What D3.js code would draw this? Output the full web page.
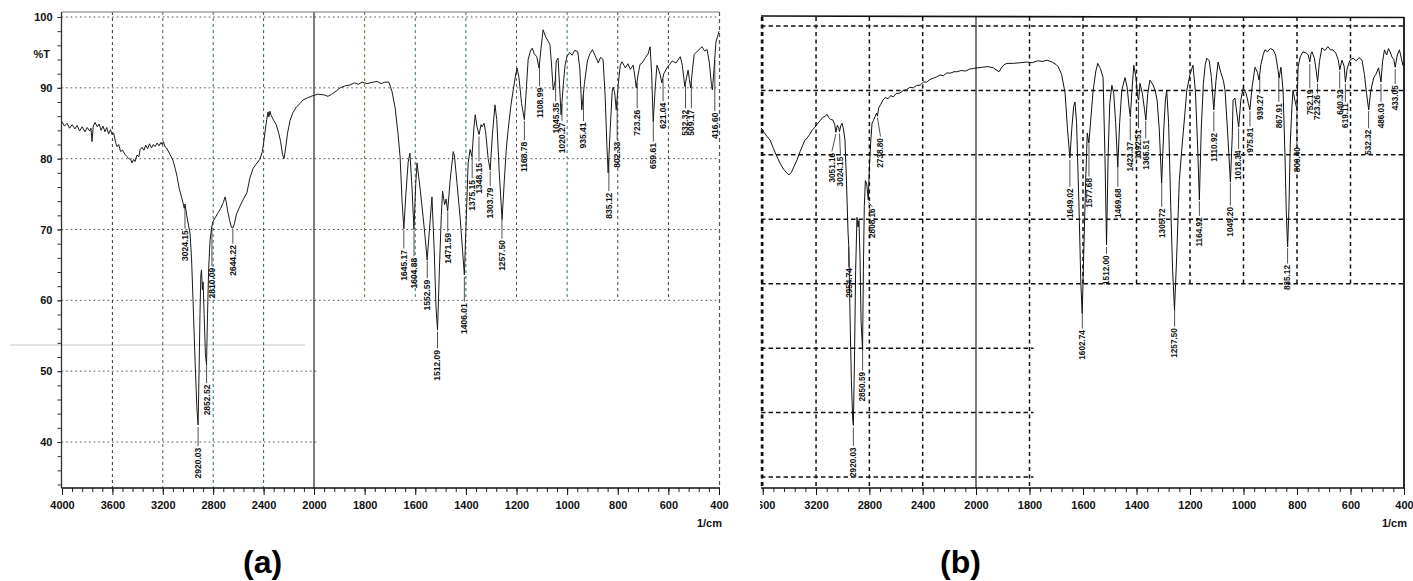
<!DOCTYPE html>
<html>
<head>
<meta charset="utf-8">
<script src="https://cdn.jsdelivr.net/npm/d3@7"></script>
<style>
  body { margin: 0; background: #fff; }
  svg text { font-family: "Liberation Sans", Arial, sans-serif; }
</style>
</head>
<body>
<script>
// ---- data: [wavenumber 1/cm, %T] ----
var specA = [
  [4000,85.2],[3980,84.6],[3960,85.0],[3940,84.3],[3920,84.8],[3897,84.2],[3880,84.7],[3860,83.9],
  [3840,84.5],[3817,83.8],[3800,84.4],[3780,83.9],[3770,84.3],[3762,82.4],[3752,84.6],[3738,85.1],
  [3720,84.5],[3705,84.9],[3690,84.0],[3675,84.6],[3659,83.8],[3645,84.4],[3630,83.5],[3615,84.1],
  [3603,83.4],[3590,83.6],[3575,82.3],[3563,81.7],[3550,82.0],[3535,81.0],[3520,81.2],[3500,80.6],
  [3485,80.3],[3470,80.0],[3455,79.9],[3444,79.4],[3432,79.9],[3420,79.6],[3405,80.5],[3390,80.3],
  [3380,81.3],[3365,81.6],[3350,81.2],[3335,81.9],[3320,81.4],[3305,82.1],[3290,81.5],[3275,82.0],
  [3262,81.7],[3245,82.2],[3230,81.8],[3215,82.3],[3206,82.0],[3195,82.4],[3183,81.7],[3170,81.5],
  [3143,80.6],[3120,79.8],[3100,78.5],[3087,77.5],[3070,75.8],[3050,74.5],[3040,73.8],[3030,73.0],
  [3024,73.6],[3010,72.0],[2995,70.5],[2984,69.5],[2972,66.0],[2960,60.0],[2945,52.0],[2930,45.0],
  [2920,42.4],[2912,50.0],[2905,58.0],[2898,63.6],[2893,64.3],[2886,61.5],[2880,62.6],[2872,58.0],
  [2862,52.5],[2853,50.9],[2845,58.0],[2836,64.5],[2825,68.5],[2810,70.5],[2800,71.2],[2780,71.8],
  [2760,72.4],[2740,73.0],[2720,73.8],[2705,74.6],[2698,74.0],[2685,72.6],[2670,71.3],[2655,70.3],
  [2644,70.2],[2632,70.8],[2615,72.2],[2590,73.2],[2560,74.3],[2532,75.2],[2510,77.2],[2484,78.6],
  [2460,79.2],[2430,79.9],[2410,81.0],[2397,82.6],[2385,84.3],[2375,85.5],[2365,86.6],[2358,85.9],
  [2350,86.7],[2340,86.1],[2320,85.4],[2300,84.8],[2280,83.6],[2265,82.4],[2250,80.6],[2238,80.0],
  [2225,81.5],[2210,83.6],[2190,85.4],[2167,86.5],[2140,87.3],[2110,87.8],[2087,88.3],[2050,88.6],
  [2008,88.9],[1985,89.1],[1960,89.0],[1945,88.8],[1930,89.1],[1910,89.6],[1897,90.0],[1875,90.3],
  [1858,90.4],[1840,90.7],[1825,90.5],[1810,90.8],[1790,90.6],[1767,90.8],[1750,90.9],[1735,90.6],
  [1720,90.8],[1704,90.8],[1692,89.5],[1680,87.3],[1668,83.5],[1660,80.3],[1652,74.0],[1645,70.1],
  [1637,75.0],[1628,79.5],[1621,80.8],[1613,76.0],[1605,70.0],[1598,76.5],[1593,79.4],[1580,75.5],
  [1569,71.8],[1560,68.5],[1553,65.7],[1545,69.5],[1534,74.6],[1525,67.0],[1518,59.0],[1512,55.8],
  [1505,64.0],[1497,72.0],[1492,75.4],[1484,73.5],[1478,74.3],[1472,72.6],[1462,77.0],[1450,81.0],
  [1445,80.4],[1435,76.5],[1423,71.8],[1413,67.0],[1406,63.6],[1398,72.0],[1391,79.4],[1383,81.3],
  [1376,80.3],[1368,84.5],[1363,86.2],[1356,84.5],[1348,83.4],[1340,84.8],[1336,84.5],[1328,85.0],
  [1322,83.8],[1312,80.0],[1304,78.4],[1295,83.5],[1285,87.6],[1278,85.5],[1268,78.0],[1257,71.4],
  [1248,77.0],[1240,81.5],[1233,84.1],[1222,87.5],[1213,89.7],[1205,91.5],[1198,92.8],[1190,91.4],
  [1180,87.8],[1169,85.5],[1160,90.5],[1154,94.0],[1145,95.2],[1138,95.6],[1130,94.8],[1120,94.4],
  [1111,92.8],[1103,95.6],[1095,98.2],[1085,97.2],[1075,96.6],[1068,96.1],[1062,93.5],[1055,89.7],
  [1047,91.0],[1043,93.8],[1036,94.2],[1030,90.5],[1024,86.2],[1015,90.5],[1008,93.2],[1001,94.4],
  [990,95.0],[980,94.6],[970,95.3],[958,95.1],[950,92.8],[942,86.9],[932,90.5],[920,93.8],
  [910,94.8],[900,95.4],[890,94.6],[877,93.5],[868,94.3],[858,94.0],[850,89.0],[843,82.0],
  [838,78.0],[830,84.0],[822,89.5],[818,90.1],[812,89.3],[806,86.9],[798,90.5],[790,93.2],
  [783,93.7],[770,92.8],[760,93.4],[750,92.6],[739,93.2],[732,91.5],[727,90.0],[720,91.8],
  [712,93.3],[704,93.5],[690,94.3],[680,94.8],[672,95.8],[666,92.0],[660,85.2],[652,90.0],
  [645,93.2],[638,92.5],[632,91.8],[626,90.7],[618,92.0],[606,92.8],[595,93.3],[585,93.8],
  [570,93.5],[553,94.4],[545,93.2],[535,90.2],[528,91.5],[522,92.5],[517,91.2],[512,90.0],
  [505,92.5],[498,94.7],[485,95.2],[467,95.8],[457,95.2],[447,95.4],[438,93.5],[430,90.5],
  [426,89.7],[420,92.5],[412,96.5],[406,97.2],[400,98.0]
];

var specB = [
  [3613,84.2],[3590,83.5],[3570,82.9],[3545,82.3],[3520,81.0],[3495,79.8],[3470,78.7],[3445,77.8],
  [3420,77.2],[3403,76.9],[3385,77.3],[3365,78.2],[3343,79.2],[3320,80.5],[3300,81.5],[3285,82.2],
  [3268,82.6],[3250,83.1],[3230,83.8],[3208,84.3],[3190,84.8],[3170,85.3],[3150,85.8],[3130,86.0],
  [3118,86.3],[3105,85.8],[3090,85.5],[3073,85.4],[3060,84.7],[3051,83.5],[3040,84.6],[3030,84.2],
  [3024,83.6],[3015,84.5],[3005,84.9],[2995,84.1],[2983,82.3],[2972,76.0],[2960,68.0],[2954,65.7],
  [2945,55.0],[2935,45.0],[2925,39.0],[2920,38.0],[2912,48.0],[2903,62.0],[2893,70.3],[2885,68.8],
  [2878,69.8],[2870,64.0],[2862,54.0],[2851,49.7],[2845,62.0],[2838,72.0],[2830,76.0],[2820,75.5],
  [2808,73.0],[2800,78.0],[2790,82.0],[2780,84.9],[2770,85.3],[2758,85.9],[2745,86.5],[2739,86.0],
  [2730,87.3],[2715,87.8],[2698,88.5],[2680,88.9],[2660,88.7],[2640,89.2],[2620,89.0],[2600,89.5],
  [2570,89.6],[2545,90.0],[2520,90.1],[2495,90.5],[2470,90.4],[2445,90.8],[2420,90.8],[2395,91.3],
  [2370,91.3],[2345,91.7],[2320,91.9],[2295,92.1],[2270,92.4],[2245,92.3],[2220,92.7],[2190,92.7],
  [2165,92.9],[2142,92.9],[2110,93.1],[2080,93.0],[2050,93.3],[2020,93.4],[1996,93.5],[1975,93.6],
  [1955,93.7],[1935,93.5],[1925,93.2],[1914,92.9],[1905,93.5],[1895,94.0],[1884,94.2],[1860,94.2],
  [1835,94.3],[1810,94.4],[1790,94.3],[1770,94.6],[1750,94.5],[1735,94.7],[1715,94.4],[1700,94.0],
  [1693,93.7],[1680,92.5],[1667,89.6],[1658,84.0],[1649,79.5],[1642,84.0],[1635,87.5],[1630,88.2],
  [1624,85.0],[1615,72.0],[1608,60.0],[1603,55.4],[1597,65.0],[1590,76.0],[1584,83.4],[1578,81.8],
  [1570,86.0],[1562,90.0],[1552,93.0],[1545,94.2],[1535,93.4],[1525,92.0],[1518,80.0],[1512,66.0],
  [1506,80.0],[1500,88.0],[1492,90.8],[1485,89.5],[1478,85.0],[1470,78.1],[1463,85.0],[1455,90.0],
  [1443,92.0],[1435,90.5],[1428,87.5],[1423,85.9],[1417,90.0],[1410,93.9],[1402,92.0],[1396,89.0],
  [1392,88.5],[1387,91.1],[1378,89.5],[1370,87.0],[1365,85.4],[1358,89.5],[1350,91.6],[1340,91.0],
  [1330,90.0],[1323,88.5],[1315,84.0],[1306,75.6],[1298,84.0],[1292,88.5],[1287,90.0],[1280,85.0],
  [1272,72.0],[1265,62.0],[1258,55.9],[1250,64.0],[1240,76.0],[1230,81.2],[1220,86.0],[1212,90.0],
  [1200,92.5],[1189,93.9],[1180,90.0],[1172,82.0],[1165,73.0],[1158,84.0],[1150,91.1],[1143,94.0],
  [1137,95.0],[1128,94.6],[1120,92.0],[1111,87.0],[1103,91.5],[1095,94.4],[1085,92.8],[1075,91.5],
  [1069,90.0],[1060,84.0],[1049,75.8],[1042,83.0],[1039,88.5],[1032,88.8],[1025,86.5],[1018,84.3],
  [1010,88.5],[1001,90.4],[990,89.5],[982,88.0],[976,87.0],[968,90.5],[957,93.6],[948,92.8],
  [942,91.6],[935,94.0],[926,95.6],[920,96.3],[910,96.0],[900,96.5],[889,96.3],[880,95.5],
  [871,93.2],[867,91.9],[860,93.6],[852,90.0],[845,80.0],[840,71.0],[835,65.7],[830,72.0],
  [825,82.0],[819,87.4],[815,90.0],[808,88.5],[800,87.0],[796,93.6],[788,95.2],[778,96.0],
  [765,95.8],[758,95.5],[752,94.4],[748,95.6],[744,96.0],[735,95.0],[728,93.0],[723,91.3],
  [716,94.5],[707,96.6],[695,96.2],[685,96.8],[675,96.3],[666,96.3],[655,95.8],[646,94.8],
  [640,93.2],[632,94.7],[624,93.8],[619,91.3],[612,93.5],[602,94.7],[590,95.0],[578,94.6],
  [568,95.1],[557,94.7],[548,92.5],[540,89.5],[532,87.0],[524,90.0],[513,92.0],[505,92.5],
  [495,93.5],[486,91.3],[480,94.5],[473,96.3],[465,95.5],[458,96.5],[452,96.0],[445,95.2],
  [438,94.8],[433,93.6],[425,95.5],[417,96.3],[410,95.0],[404,93.9],[400,94.3]
];

// peak labels: [text, %T level where the label text starts]
var peaksA = [
  ["3024.15",69.9],["2920.03",39.2],["2852.52",48.1],["2810.09",64.6],["2644.22",67.8],
  ["1645.17",67.1],["1604.88",66.0],["1552.59",62.9],["1512.09",53.0],["1471.59",69.5],
  ["1406.01",59.6],["1375.15",77.0],["1348.15",79.4],["1303.79",75.9],["1257.50",68.5],
  ["1168.78",82.4],["1108.99",90.0],["1045.35",87.9],["1020.27",85.1],["935.41",85.1],
  ["835.12",75.2],["802.33",82.4],["723.26",86.9],["659.61",82.2],["621.04",87.9],
  ["532.32",86.9],["509.17",86.9],["416.60",86.5]
];
var peaksB = [
  ["3051.16",80.3],["3024.15",79.7],["2954.74",62.4],["2920.03",34.6],["2850.59",46.3],
  ["2808.16",71.7],["2738.80",82.6],["1649.02",74.8],["1602.74",52.8],["1577.68",76.4],
  ["1512.00",64.4],["1469.68",74.8],["1423.37",82.0],["1392.51",83.9],["1365.51",82.3],
  ["1305.72",71.7],["1257.50",53.1],["1164.92",70.3],["1110.92",83.4],["1049.20",71.9],
  ["1018.34",80.7],["975.81",84.2],["939.27",89.3],["867.91",88.0],["835.12",62.9],
  ["800.40",81.2],["752.19",90.1],["723.26",89.3],["640.32",90.1],["619.11",88.0],
  ["532.32",83.9],["486.03",88.0],["433.05",90.8]
];

// axis values
var xLabelsA = [4000,3600,3200,2800,2400,2000,1800,1600,1400,1200,1000,800,600,400];
var xLabelsB = [3600,3200,2800,2400,2000,1800,1600,1400,1200,1000,800,600,400];
var yLabelsA = [100,90,80,70,60,50,40];
var gridYB = [100,90,80,70,60,50,40,30];
var gridX = [3600,3200,2800,2400,2000,1800,1600,1400,1200,1000,800,600];

// layout
var W = 1413, H = 581;
var svg = d3.select("body").append("svg").attr("width", W).attr("height", H);
svg.append("rect").attr("width", W).attr("height", H).attr("fill", "#fff");

var xA = d3.scaleLinear().domain([4000, 2000, 400]).range([62, 314, 719]);
var yA = d3.scaleLinear().domain([40, 100]).range([442, 17]);
var xB = d3.scaleLinear().domain([3613, 2000, 400]).range([761, 976, 1404]);
var yB = d3.scaleLinear().domain([30, 100]).range([477, 26]);

function valueAt(spec, w) {
  for (var i = 0; i < spec.length - 1; i++) {
    var a = spec[i], b = spec[i + 1];
    if (w <= a[0] && w >= b[0]) {
      var t = (a[0] - w) / (a[0] - b[0]);
      return a[1] + t * (b[1] - a[1]);
    }
  }
  return spec[spec.length - 1][1];
}

function drawGrid(g, o) {
  o.gridY.forEach(function(v) {
    var x2 = v < 60 ? o.x(o.split) + 4 : o.right;
    g.append("line")
      .attr("x1", o.left).attr("x2", x2)
      .attr("y1", o.y(v)).attr("y2", o.y(v))
      .attr("stroke", o.gridColor).attr("stroke-width", o.gridWidth)
      .attr("stroke-dasharray", o.hDash);
  });
  o.gridX.forEach(function(v, i) {
    if (v > o.x.domain()[0]) return;
    var solid = v === 2000;
    var y2 = v < o.split ? o.y(60) : o.bottom;
    g.append("line")
      .attr("x1", o.x(v)).attr("x2", o.x(v))
      .attr("y1", o.top).attr("y2", y2)
      .attr("stroke", solid ? "#111" : (o.vColors ? o.vColors[i % o.vColors.length] : o.gridColor))
      .attr("stroke-width", solid ? 1.1 : o.gridWidth)
      .attr("stroke-dasharray", solid ? null : o.vDash);
  });
}

function drawXAxis(g, o) {
  var minor = d3.range(4000, 2000, -80).concat(d3.range(2000, 399, -40))
    .filter(function(v) { return v <= o.x.domain()[0]; });
  var gm = g.append("g").attr("transform", "translate(0," + o.bottom + ")")
    .call(d3.axisBottom(o.x).tickValues(minor).tickSize(4).tickSizeOuter(0).tickFormat(""));
  gm.select(".domain").remove();
  gm.selectAll("line").attr("stroke", "#222");
  var gl = g.append("g").attr("transform", "translate(0," + o.bottom + ")")
    .call(d3.axisBottom(o.x).tickValues(o.labels).tickSize(7).tickSizeOuter(0).tickPadding(6)
      .tickFormat(d3.format("d")));
  gl.select(".domain").remove();
  gl.selectAll("line").attr("stroke", "#111");
  gl.selectAll("text").attr("font-size", 11).attr("font-weight", "bold").attr("fill", "#111");
  g.append("line").attr("x1", o.left).attr("x2", o.right + 1)
    .attr("y1", o.bottom).attr("y2", o.bottom).attr("stroke", "#111").attr("stroke-width", 1.3);
  g.append("text").attr("x", o.right + 3).attr("y", o.bottom + 39)
    .attr("text-anchor", "end").attr("font-size", 11).attr("font-weight", "bold")
    .attr("fill", "#111").text("1/cm");
}

function drawPeaks(g, peaks, spec, x, y, fs, nudge) {
  peaks.forEach(function(p) {
    var w = +p[0];
    var px = x(w), lx = px + (nudge[p[0]] || 0);
    var y0 = y(valueAt(spec, w)) + 2, y1 = y(p[1]) - 1.5;
    if (y1 > y0) {
      g.append("line").attr("x1", px).attr("y1", y0).attr("x2", lx).attr("y2", y1)
        .attr("stroke", "#222").attr("stroke-width", 0.8);
    }
    g.append("text")
      .attr("transform", "translate(" + lx + "," + y(p[1]) + ") rotate(-90)")
      .attr("text-anchor", "end").attr("dy", "0.35em")
      .attr("font-size", fs).attr("font-weight", "bold").attr("fill", "#111")
      .text(p[0]);
  });
}

var line = function(x, y) {
  return d3.line().x(function(d) { return x(d[0]); }).y(function(d) { return y(d[1]); });
};

// ---------------- panel (a) ----------------
var gA = svg.append("g");
var optA = {
  x: xA, y: yA, left: 61.5, right: 719, top: 12, bottom: 488, split: 2000,
  gridY: yLabelsA, gridX: gridX, gridColor: "#555", gridWidth: 1,
  hDash: "1.6,3", vDash: "3,3",
  vColors: ["#333", "#6b5a3a", "#2f6f78", "#2f5f70", "#111", "#7a6a2a", "#3a6f75", "#2f6f7a", "#6b4a6b", "#2f6f78", "#444", "#3a3a3a"],
  labels: xLabelsA
};
// scan artefact line
gA.append("line").attr("x1", 10).attr("x2", 305).attr("y1", 345).attr("y2", 345)
  .attr("stroke", "#c8c8c8").attr("stroke-width", 1);
drawGrid(gA, optA);
gA.append("line").attr("x1", 61.5).attr("x2", 719).attr("y1", 12).attr("y2", 12)
  .attr("stroke", "#777").attr("stroke-width", 1);
gA.append("line").attr("x1", 719.5).attr("x2", 719.5).attr("y1", 12).attr("y2", 488)
  .attr("stroke", "#555").attr("stroke-width", 1.2).attr("stroke-dasharray", "4,3");
gA.append("line").attr("x1", 61.5).attr("x2", 61.5).attr("y1", 12).attr("y2", 488)
  .attr("stroke", "#333").attr("stroke-width", 1.3);

var yMinor = gA.append("g").attr("transform", "translate(61.5,0)")
  .call(d3.axisLeft(yA).tickValues(d3.range(34, 101, 2)).tickSize(4).tickSizeOuter(0).tickFormat(""));
yMinor.select(".domain").remove();
yMinor.selectAll("line").attr("stroke", "#333");
var yMajor = gA.append("g").attr("transform", "translate(61.5,0)")
  .call(d3.axisLeft(yA).tickValues(yLabelsA).tickSize(4).tickSizeOuter(0).tickPadding(5));
yMajor.select(".domain").remove();
yMajor.selectAll("line").attr("stroke", "#333");
yMajor.selectAll("text").attr("font-size", 11).attr("font-weight", "bold").attr("fill", "#111");
gA.append("text").attr("x", 50).attr("y", 58).attr("text-anchor", "end")
  .attr("font-size", 11).attr("font-weight", "bold").attr("fill", "#111").text("%T");

drawXAxis(gA, optA);

gA.append("path").datum(specA).attr("d", line(xA, yA))
  .attr("fill", "none").attr("stroke", "#1a1a1a").attr("stroke-width", 1)
  .attr("stroke-linejoin", "round");
drawPeaks(gA, peaksA, specA, xA, yA, 8.5, {});

// ---------------- panel (b) ----------------
svg.append("clipPath").attr("id", "clipB").append("rect")
  .attr("x", 760).attr("y", 0).attr("width", 660).attr("height", H);
var gB = svg.append("g").attr("clip-path", "url(#clipB)");
var optB = {
  x: xB, y: yB, left: 761, right: 1404, top: 17, bottom: 488, split: 1800,
  gridY: gridYB, gridX: gridX, gridColor: "#111", gridWidth: 1.5,
  hDash: "4.5,3", vDash: "4,3.5",
  labels: xLabelsB
};
drawGrid(gB, optB);
gB.append("line").attr("x1", 761).attr("x2", 1404).attr("y1", 16).attr("y2", 17.5)
  .attr("stroke", "#111").attr("stroke-width", 1.6);
gB.append("line").attr("x1", 761.5).attr("x2", 761.5).attr("y1", 17).attr("y2", 488)
  .attr("stroke", "#111").attr("stroke-width", 1.5).attr("stroke-dasharray", "4,3.5");
gB.append("line").attr("x1", 1404).attr("x2", 1404).attr("y1", 17).attr("y2", 488)
  .attr("stroke", "#111").attr("stroke-width", 1.8);
drawXAxis(gB, optB);

gB.append("path").datum(specB).attr("d", line(xB, yB))
  .attr("fill", "none").attr("stroke", "#111").attr("stroke-width", 1)
  .attr("stroke-linejoin", "round");
drawPeaks(gB, peaksB, specB, xB, yB, 8.2, {"3051.16": -4, "3024.15": 1, "2808.16": 4, "2738.80": 3});

// panel captions
svg.append("text").attr("x", 243).attr("y", 573).attr("font-size", 32)
  .attr("font-weight", "bold").attr("fill", "#000").text("(a)");
svg.append("text").attr("x", 940).attr("y", 573).attr("font-size", 32)
  .attr("font-weight", "bold").attr("fill", "#000").text("(b)");
</script>
</body>
</html>
